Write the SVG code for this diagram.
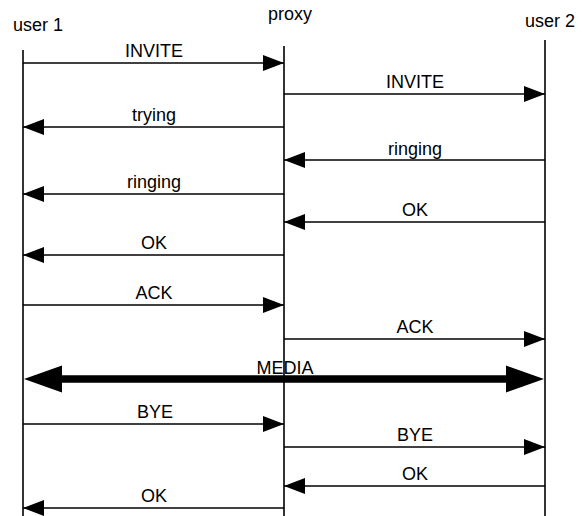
<svg xmlns="http://www.w3.org/2000/svg" width="583" height="516" viewBox="0 0 583 516">
<defs>
<style>
text{font-family:"Liberation Sans",Arial,sans-serif;font-size:18px;fill:#000}
.lbl{text-anchor:middle}
.life{stroke:#000;stroke-width:1.6;fill:none}
.msg{stroke:#000;stroke-width:1.6;fill:none;marker-end:url(#ah)}
</style>
<marker id="ah" viewBox="0 0 21 16" refX="21" refY="8" markerWidth="21" markerHeight="16" markerUnits="userSpaceOnUse" orient="auto">
<path d="M0,0 L21,8 L0,16 z" fill="#000"/>
</marker>
</defs>
<rect width="583" height="516" fill="#fff"/>
<g id="user1">
<text x="13" y="31">user 1</text>
<line class="life" x1="23" y1="50" x2="23" y2="516"/>
</g>
<g id="proxy">
<text x="268" y="20">proxy</text>
<line class="life" x1="284" y1="46" x2="284" y2="516"/>
</g>
<g id="user2">
<text x="525" y="27">user 2</text>
<line class="life" x1="545" y1="40" x2="545" y2="516"/>
</g>
<g id="connectors">
<line class="msg" x1="23" y1="63" x2="284" y2="63"/>
<text class="lbl" x="154" y="57">INVITE</text>
<line class="msg" x1="284" y1="94" x2="545" y2="94"/>
<text class="lbl" x="415" y="88">INVITE</text>
<line class="msg" x1="284" y1="127" x2="23" y2="127"/>
<text class="lbl" x="154" y="121">trying</text>
<line class="msg" x1="545" y1="160" x2="284" y2="160"/>
<text class="lbl" x="415" y="155">ringing</text>
<line class="msg" x1="284" y1="194" x2="23" y2="194"/>
<text class="lbl" x="154" y="188">ringing</text>
<line class="msg" x1="545" y1="222" x2="284" y2="222"/>
<text class="lbl" x="415" y="216">OK</text>
<line class="msg" x1="284" y1="255" x2="23" y2="255"/>
<text class="lbl" x="154" y="249">OK</text>
<line class="msg" x1="23" y1="305" x2="284" y2="305"/>
<text class="lbl" x="154" y="299">ACK</text>
<line class="msg" x1="284" y1="339" x2="545" y2="339"/>
<text class="lbl" x="415" y="333">ACK</text>
<path d="M24,379 L62,365.5 L62,375.2 L506,375.2 L506,365.5 L544,379 L506,392.5 L506,382.8 L62,382.8 L62,392.5 z" fill="#000"/>
<text class="lbl" x="285" y="374">MEDIA</text>
<line class="msg" x1="23" y1="424" x2="284" y2="424"/>
<text class="lbl" x="155" y="418">BYE</text>
<line class="msg" x1="284" y1="447" x2="545" y2="447"/>
<text class="lbl" x="415" y="441">BYE</text>
<line class="msg" x1="545" y1="486" x2="284" y2="486"/>
<text class="lbl" x="415" y="480">OK</text>
<line class="msg" x1="284" y1="508" x2="23" y2="508"/>
<text class="lbl" x="154" y="502">OK</text>
</g>
</svg>
